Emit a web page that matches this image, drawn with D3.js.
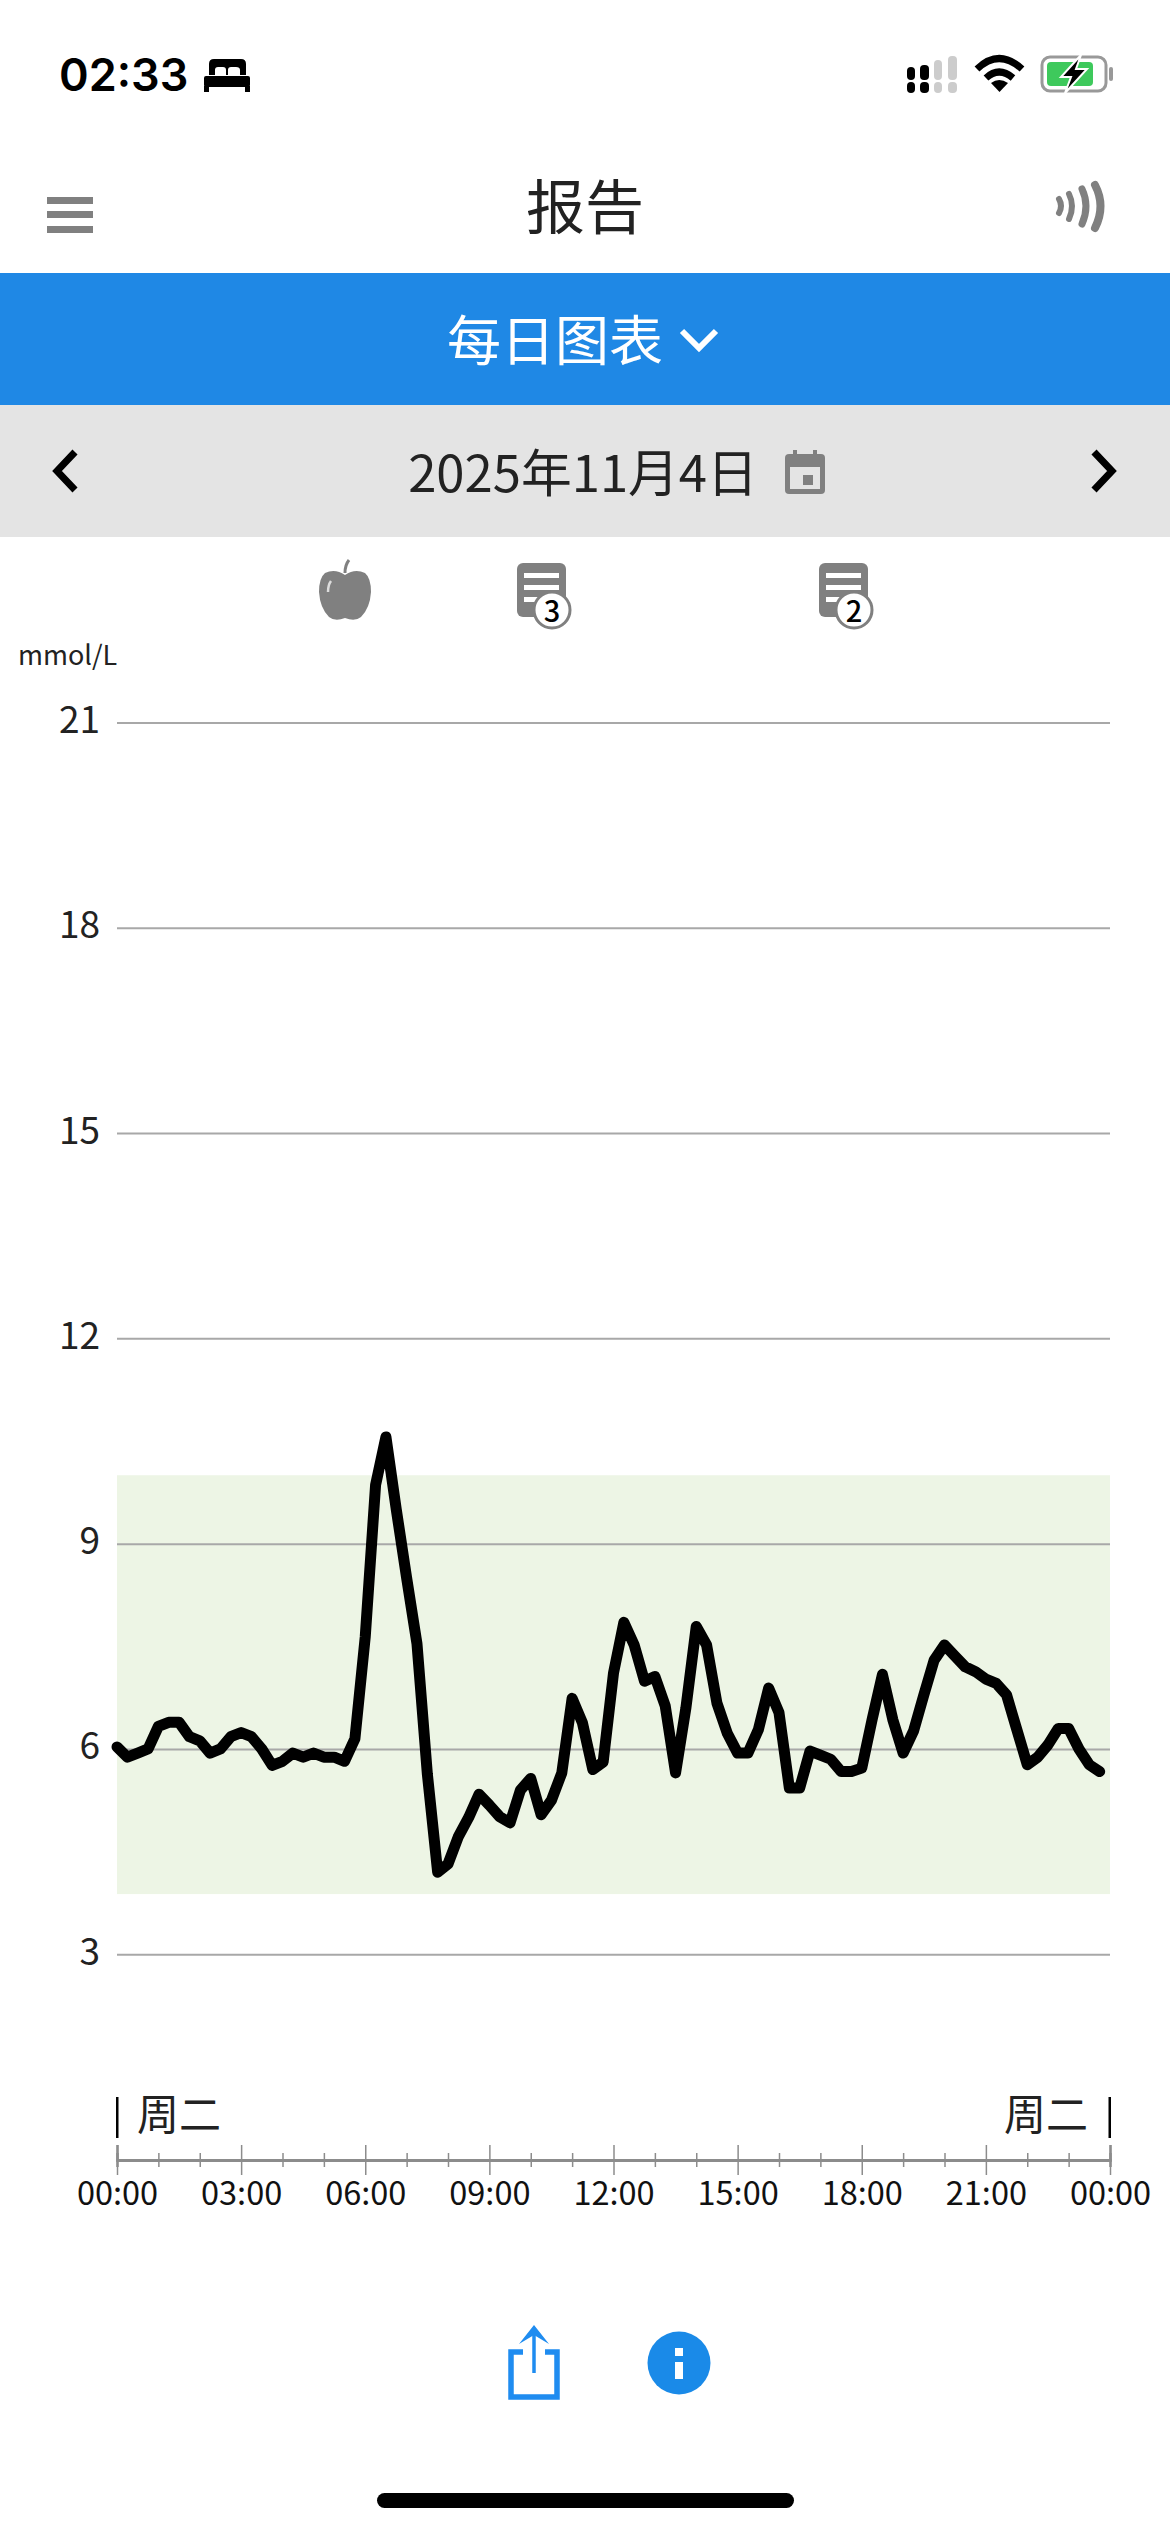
<!DOCTYPE html>
<html lang="zh">
<head>
<meta charset="utf-8">
<script src="https://cdn.jsdelivr.net/npm/d3@7"></script>
<style>
body { margin: 0; background: #fff; }
svg { display: block; }
text { font-family: "Noto Sans CJK SC", "Noto Sans", sans-serif; }
</style>
</head>
<body>
<svg width="1170" height="2532"></svg>
<script>
const svg = d3.select("svg")

// readings every 15 minutes, mmol/L
const glucose = [
    6.03, 5.88, 5.94, 6.0, 6.33, 6.39, 6.39, 6.18, 6.12, 5.94, 6.0, 6.18,
    6.24, 6.18, 6.0, 5.76, 5.82, 5.94, 5.88, 5.94, 5.88, 5.88, 5.82, 6.15,
    7.64, 9.86, 10.56, 9.5, 8.5, 7.54, 5.64, 4.2, 4.32, 4.72, 5.0, 5.34,
    5.18, 5.01, 4.92, 5.4, 5.57, 5.04, 5.25, 5.65, 6.74, 6.38, 5.7, 5.81,
    7.11, 7.85, 7.52, 6.99, 7.06, 6.63, 5.65, 6.6, 7.79, 7.52, 6.67, 6.23,
    5.94, 5.94, 6.28, 6.89, 6.53, 5.43, 5.43, 5.97, 5.91, 5.85, 5.67, 5.67,
    5.72, 6.43, 7.09, 6.43, 5.94, 6.26, 6.79, 7.3, 7.52, 7.36, 7.2, 7.13,
    7.02, 6.96, 6.79, 6.28, 5.77, 5.88, 6.06, 6.3, 6.3, 6.0, 5.77, 5.67
];
const yTicks = [3, 6, 9, 12, 15, 18, 21];
const majorHours = [0, 3, 6, 9, 12, 15, 18, 21, 24];
const minorHours = [1, 2, 4, 5, 7, 8, 10, 11, 13, 14, 16, 17, 19, 20, 22, 23];
const timeLabels = ["00:00", "03:00", "06:00", "09:00", "12:00", "15:00", "18:00", "21:00", "00:00"];
const targetRange = [3.88, 10];

const x = d3.scaleLinear().domain([0, 24]).range([117, 1110]);
const y = d3.scaleLinear().domain([3, 21]).range([1954.3, 722.4]);

const grey = "#808080";
const blue = "#1f88e5";

// ---- header bands
svg.append("rect").attr("x", 0).attr("y", 273).attr("width", 1170).attr("height", 132).attr("fill", blue);
svg.append("rect").attr("x", 0).attr("y", 405).attr("width", 1170).attr("height", 132).attr("fill", "#e4e4e4");

function label(txt, px, py, size, fill, anchor, weight) {
    return svg.append("text")
        .attr("x", px).attr("y", py)
        .attr("font-size", size)
        .attr("fill", fill)
        .attr("text-anchor", anchor || "middle")
        .attr("dominant-baseline", "central")
        .attr("font-weight", weight || 400)
        .text(txt);
}

// ---- status bar
label("02:33", 59, 74, 45, "#000", "start", 600).style("font-family", "Inter");
const bed = svg.append("g").attr("fill", "#000");
bed.append("path").attr("d", "M209 75 V64 Q209 59 214 59 H241 Q246 59 246 64 V75 H240 V70 Q240 67 236 67 H231 Q228 67 228 70 V75 H226 V70 Q226 67 223 67 H218 Q215 67 215 70 V75 Z");
bed.append("rect").attr("x", 204).attr("y", 76).attr("width", 46).attr("height", 11).attr("rx", 2);
bed.append("rect").attr("x", 204).attr("y", 86).attr("width", 5).attr("height", 6);
bed.append("rect").attr("x", 245).attr("y", 86).attr("width", 5).attr("height", 6);

const signal = svg.append("g");
[[907, 67, 8, 13, "#000"], [920, 65, 9, 15, "#000"], [907, 82, 8, 11, "#000"], [920, 82, 9, 11, "#000"],
 [934, 60, 8, 20, "#ccc"], [948, 56, 9, 24, "#ccc"], [934, 82, 8, 11, "#ccc"], [948, 82, 9, 11, "#ccc"]].forEach(function(s) {
    signal.append("rect").attr("x", s[0]).attr("y", s[1]).attr("width", s[2]).attr("height", s[3]).attr("rx", 4).attr("fill", s[4]);
});

const wifi = svg.append("g").attr("fill", "none").attr("stroke", "#000").attr("stroke-width", 7);
wifi.append("path").attr("d", "M977 69 Q999 48 1022 69");
wifi.append("path").attr("d", "M986 78 Q999 66 1013 78");
svg.append("path").attr("d", "M991 83 Q999 77 1008 83 L999.5 92 Z").attr("fill", "#000");

svg.append("rect").attr("x", 1042).attr("y", 57).attr("width", 64).attr("height", 34).attr("rx", 8)
    .attr("fill", "#fff").attr("stroke", "#999").attr("stroke-width", 3);
svg.append("rect").attr("x", 1047).attr("y", 62).attr("width", 46).attr("height", 24).attr("rx", 4).attr("fill", "#3ec95c");
svg.append("rect").attr("x", 1109).attr("y", 67).attr("width", 4).attr("height", 14).attr("rx", 2).attr("fill", "#999");
svg.append("path").attr("d", "M1081 55 L1061 77 H1071 L1065 93 L1087 69 H1076 Z")
    .attr("fill", "#000").attr("stroke", "#fff").attr("stroke-width", 2);

// ---- nav bar
[197, 211, 226].forEach(function(py) {
    svg.append("rect").attr("x", 47).attr("y", py).attr("width", 46).attr("height", 7).attr("fill", grey);
});
label("报告", 585, 203, 59, "#222");
const nfc = svg.append("g").attr("fill", "none").attr("stroke", grey).attr("stroke-linecap", "round").attr("stroke-width", 6);
nfc.append("path").attr("d", "M1059 199 Q1063 206 1059 213");
nfc.append("path").attr("d", "M1069 194 Q1075 206 1069 219");
nfc.append("path").attr("d", "M1082 189 Q1090 206 1082 224").attr("stroke-width", 7);
nfc.append("path").attr("d", "M1095 185 Q1106 206 1095 228").attr("stroke-width", 8);

// ---- band texts
label("每日图表", 555, 337, 54, "#fff");
svg.append("path").attr("d", "M682 331 L699 348 L716 331").attr("fill", "none").attr("stroke", "#fff").attr("stroke-width", 6);
label("2025年11月4日", 583, 470, 50.8, "#222");

const cal = svg.append("g");
cal.append("rect").attr("x", 785).attr("y", 454).attr("width", 40).attr("height", 40).attr("rx", 4).attr("fill", grey);
cal.append("rect").attr("x", 790).attr("y", 467).attr("width", 30).attr("height", 22).attr("fill", "#e4e4e4");
cal.append("rect").attr("x", 803).attr("y", 475).attr("width", 10).attr("height", 10).attr("fill", grey);
cal.append("rect").attr("x", 793).attr("y", 450).attr("width", 4).attr("height", 8).attr("fill", grey);
cal.append("rect").attr("x", 813).attr("y", 450).attr("width", 4).attr("height", 8).attr("fill", grey);

svg.append("path").attr("d", "M75 452 L57 471 L75 490").attr("fill", "none").attr("stroke", "#000").attr("stroke-width", 7);
svg.append("path").attr("d", "M1094 452 L1112 471 L1094 490").attr("fill", "none").attr("stroke", "#000").attr("stroke-width", 7);

// ---- event icons above the chart
svg.append("path")
    .attr("d", "M345 575 Q335 568 325 573 Q319 578 319 592 Q320 608 329 617 Q335 622 345 618 Q355 622 361 617 Q370 608 371 592 Q371 578 365 573 Q355 568 345 575 Z")
    .attr("fill", grey);
svg.append("path").attr("d", "M345 573 Q345 565 349 560").attr("fill", "none").attr("stroke", grey).attr("stroke-width", 3);
svg.append("path").attr("d", "M328 592 Q328 585 331 581").attr("fill", "none").attr("stroke", "#ddd").attr("stroke-width", 2.5);

function noteIcon(nx, count) {
    const g = svg.append("g").attr("transform", "translate(" + nx + ",563)");
    g.append("rect").attr("width", 49).attr("height", 54).attr("rx", 6).attr("fill", grey);
    [10, 22, 34].forEach(function(py) {
        g.append("rect").attr("x", 7).attr("y", py).attr("width", 35).attr("height", 5).attr("fill", "#fff");
    });
    g.append("circle").attr("cx", 35).attr("cy", 47).attr("r", 18).attr("fill", "#fff").attr("stroke", grey).attr("stroke-width", 3);
    g.append("text").attr("x", 35).attr("y", 46).attr("font-size", 29).attr("font-weight", 500)
        .attr("text-anchor", "middle").attr("dominant-baseline", "central").attr("fill", "#000").text(count);
}
noteIcon(517, "3");
noteIcon(819, "2");

label("mmol/L", 18, 653, 27, "#222", "start");

// ---- chart: target band, grid, curve
svg.append("rect")
    .attr("x", x(0)).attr("width", x(24) - x(0))
    .attr("y", y(targetRange[1])).attr("height", y(targetRange[0]) - y(targetRange[1]))
    .attr("fill", "#edf5e5");

const yAxis = d3.axisLeft(y)
    .tickValues(yTicks)
    .tickFormat(d3.format("d"))
    .tickSizeInner(-(x(24) - x(0)))
    .tickSizeOuter(0)
    .tickPadding(17);

const yG = svg.append("g").attr("transform", "translate(" + x(0) + ",0)").call(yAxis);
yG.select(".domain").remove();
yG.selectAll("line").attr("stroke", "#a8a8a8").attr("stroke-width", 2);
yG.selectAll("text").attr("font-size", 37).attr("fill", "#222").attr("dy", "0.27em")
    .style("font-family", '"Noto Sans CJK SC"');

const line = d3.line()
    .x(function(d, i) { return x(i * 0.25); })
    .y(function(d) { return y(d); });

svg.append("path")
    .datum(glucose)
    .attr("d", line)
    .attr("fill", "none")
    .attr("stroke", "#000")
    .attr("stroke-width", 11)
    .attr("stroke-linejoin", "round")
    .attr("stroke-linecap", "round");

// ---- day markers
svg.append("rect").attr("x", x(0) - 1).attr("y", 2097).attr("width", 2.5).attr("height", 41).attr("fill", "#000");
svg.append("rect").attr("x", x(24) - 1.5).attr("y", 2097).attr("width", 2.5).attr("height", 41).attr("fill", "#000");
label("周二", 137, 2111, 42, "#222", "start");
label("周二", 1088, 2111, 42, "#222", "end");

// ---- time axis, ticks go both ways off the line
const axisY = 2160;
const xBottom = d3.axisBottom(x)
    .tickValues(majorHours)
    .tickFormat(function(d, i) { return timeLabels[i]; })
    .tickSizeInner(15)
    .tickSizeOuter(0)
    .tickPadding(7);
const xTop = d3.axisTop(x).tickValues(majorHours).tickFormat("").tickSize(15);
const xMinorBottom = d3.axisBottom(x).tickValues(minorHours).tickFormat("").tickSize(7);
const xMinorTop = d3.axisTop(x).tickValues(minorHours).tickFormat("").tickSize(7);

const axisG = svg.append("g").attr("transform", "translate(0," + axisY + ")");
[xTop, xMinorBottom, xMinorTop, xBottom].forEach(function(ax) {
    const g = axisG.append("g").call(ax);
    g.select(".domain").attr("stroke", "#8c8c8c").attr("stroke-width", 2.5);
    g.selectAll("line").attr("stroke", "#8c8c8c").attr("stroke-width", 1.5);
    g.selectAll("text").attr("font-size", 32.5).attr("fill", "#111")
        .style("font-family", '"Noto Sans CJK SC"');
});

// ---- bottom buttons
const share = svg.append("g").attr("fill", "none").attr("stroke", "#1f8cf0").attr("stroke-width", 5.5);
share.append("path").attr("d", "M523 2352 H511 V2397 H557 V2352 H545");
share.append("path").attr("d", "M534 2332 V2373").attr("stroke-width", 3.5);
svg.append("path").attr("d", "M534 2325 L549 2344 L534 2335 L519 2344 Z").attr("fill", "#1f8cf0");

svg.append("circle").attr("cx", 679).attr("cy", 2363).attr("r", 31.5).attr("fill", "#1a8ae8");
svg.append("rect").attr("x", 675).attr("y", 2348).attr("width", 8).attr("height", 8).attr("fill", "#fff");
svg.append("rect").attr("x", 675).attr("y", 2362).attr("width", 8).attr("height", 17).attr("fill", "#fff");

svg.append("rect").attr("x", 377).attr("y", 2493).attr("width", 417).attr("height", 15).attr("rx", 7.5).attr("fill", "#000");
</script>
</body>
</html>
